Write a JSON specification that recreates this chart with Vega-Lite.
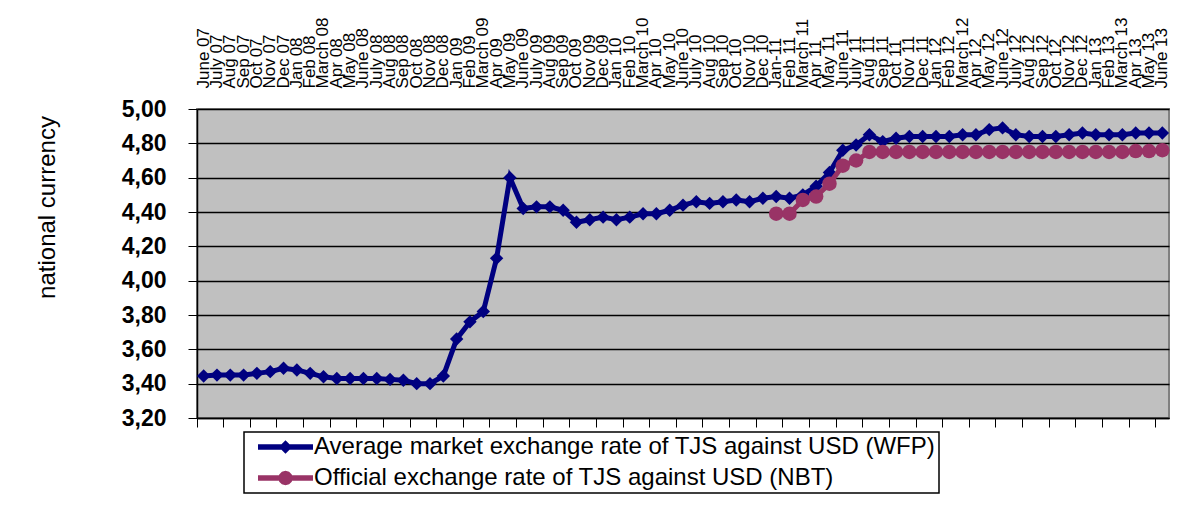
{
  "$schema": "https://vega.github.io/schema/vega-lite/v6.json",
  "width": 972,
  "height": 309,
  "autosize": {"type": "none"},
  "padding": {"left": 197, "top": 109, "right": 12, "bottom": 88},
  "background": "white",
  "config": {
    "font": "Liberation Sans",
    "view": {"fill": "#C0C0C0", "stroke": "#808080", "strokeWidth": 2}
  },
  "datasets": {
    "wfp": [
      {"month": "June 07", "rate": 3.445}, {"month": "July 07", "rate": 3.45}, {"month": "Aug 07", "rate": 3.45},
      {"month": "Sep 07", "rate": 3.45}, {"month": "Oct 07", "rate": 3.46}, {"month": "Nov 07", "rate": 3.47},
      {"month": "Dec 07", "rate": 3.49}, {"month": "Jan 08", "rate": 3.48}, {"month": "Feb 08", "rate": 3.46},
      {"month": "March 08", "rate": 3.44}, {"month": "Apr 08", "rate": 3.43}, {"month": "May 08", "rate": 3.43},
      {"month": "June 08", "rate": 3.43}, {"month": "July 08", "rate": 3.43}, {"month": "Aug 08", "rate": 3.425},
      {"month": "Sep 08", "rate": 3.42}, {"month": "Oct 08", "rate": 3.40}, {"month": "Nov 08", "rate": 3.40},
      {"month": "Dec 08", "rate": 3.445}, {"month": "Jan 09", "rate": 3.66}, {"month": "Feb 09", "rate": 3.76},
      {"month": "March 09", "rate": 3.82}, {"month": "Apr 09", "rate": 4.13}, {"month": "May 09", "rate": 4.60},
      {"month": "June 09", "rate": 4.42}, {"month": "July 09", "rate": 4.43}, {"month": "Aug 09", "rate": 4.43},
      {"month": "Sep 09", "rate": 4.41}, {"month": "Oct 09", "rate": 4.34}, {"month": "Nov 09", "rate": 4.355},
      {"month": "Dec 09", "rate": 4.37}, {"month": "Jan 10", "rate": 4.355}, {"month": "Feb 10", "rate": 4.37},
      {"month": "March 10", "rate": 4.39}, {"month": "Apr 10", "rate": 4.39}, {"month": "May 10", "rate": 4.41},
      {"month": "June 10", "rate": 4.44}, {"month": "July 10", "rate": 4.46}, {"month": "Aug 10", "rate": 4.45},
      {"month": "Sep 10", "rate": 4.46}, {"month": "Oct 10", "rate": 4.47}, {"month": "Nov 10", "rate": 4.46},
      {"month": "Dec 10", "rate": 4.48}, {"month": "Jan-11", "rate": 4.49}, {"month": "Feb 11", "rate": 4.48},
      {"month": "March 11", "rate": 4.50}, {"month": "Apr 11", "rate": 4.55}, {"month": "May 11", "rate": 4.63},
      {"month": "June 11", "rate": 4.76}, {"month": "July 11", "rate": 4.79}, {"month": "Aug 11", "rate": 4.85},
      {"month": "Sep 11", "rate": 4.81}, {"month": "Oct 11", "rate": 4.83}, {"month": "Nov 11", "rate": 4.84},
      {"month": "Dec 11", "rate": 4.84}, {"month": "Jan 12", "rate": 4.84}, {"month": "Feb 12", "rate": 4.84},
      {"month": "March 12", "rate": 4.85}, {"month": "Apr 12", "rate": 4.85}, {"month": "May 12", "rate": 4.88},
      {"month": "June 12", "rate": 4.89}, {"month": "July 12", "rate": 4.85}, {"month": "Aug 12", "rate": 4.84},
      {"month": "Sep 12", "rate": 4.84}, {"month": "Oct 12", "rate": 4.84}, {"month": "Nov 12", "rate": 4.85},
      {"month": "Dec 12", "rate": 4.86}, {"month": "Jan 13", "rate": 4.85}, {"month": "Feb 13", "rate": 4.85},
      {"month": "March 13", "rate": 4.85}, {"month": "Apr 13", "rate": 4.86}, {"month": "May 13", "rate": 4.86},
      {"month": "June 13", "rate": 4.86}
    ],
    "nbt": [
      {"month": "Jan-11", "rate": 4.39}, {"month": "Feb 11", "rate": 4.39}, {"month": "March 11", "rate": 4.47},
      {"month": "Apr 11", "rate": 4.49}, {"month": "May 11", "rate": 4.565}, {"month": "June 11", "rate": 4.67},
      {"month": "July 11", "rate": 4.70}, {"month": "Aug 11", "rate": 4.75}, {"month": "Sep 11", "rate": 4.75},
      {"month": "Oct 11", "rate": 4.75}, {"month": "Nov 11", "rate": 4.75}, {"month": "Dec 11", "rate": 4.75},
      {"month": "Jan 12", "rate": 4.75}, {"month": "Feb 12", "rate": 4.75}, {"month": "March 12", "rate": 4.75},
      {"month": "Apr 12", "rate": 4.75}, {"month": "May 12", "rate": 4.75}, {"month": "June 12", "rate": 4.75},
      {"month": "July 12", "rate": 4.75}, {"month": "Aug 12", "rate": 4.75}, {"month": "Sep 12", "rate": 4.75},
      {"month": "Oct 12", "rate": 4.75}, {"month": "Nov 12", "rate": 4.75}, {"month": "Dec 12", "rate": 4.75},
      {"month": "Jan 13", "rate": 4.75}, {"month": "Feb 13", "rate": 4.75}, {"month": "March 13", "rate": 4.75},
      {"month": "Apr 13", "rate": 4.755}, {"month": "May 13", "rate": 4.755}, {"month": "June 13", "rate": 4.76}
    ]
  },
  "resolve": {"axis": {"x": "independent"}},
  "encoding": {
    "y": {
      "field": "rate",
      "type": "quantitative",
      "scale": {"domain": [3.2, 5.0], "nice": false, "zero": false},
      "axis": {
        "title": "national currency",
        "titleFont": "Liberation Sans",
        "titleFontSize": 24,
        "titleFontWeight": "normal",
        "titleColor": "black",
        "titleAngle": -90,
        "titleAlign": "center",
        "titleBaseline": "middle",
        "titleX": -150,
        "titleY": 98,
        "values": [3.2, 3.4, 3.6, 3.8, 4.0, 4.2, 4.4, 4.6, 4.8, 5.0],
        "labelExpr": "replace(format(datum.value, '.2f'), '.', ',')",
        "labelFont": "Liberation Sans",
        "labelFontSize": 23,
        "labelFontWeight": "bold",
        "labelColor": "black",
        "labelPadding": 22,
        "labelOverlap": false,
        "labelFlush": false,
        "tickSize": 9,
        "tickColor": "black",
        "tickWidth": 1,
        "domainColor": "black",
        "domainWidth": 1.5,
        "grid": true,
        "gridColor": "black",
        "gridWidth": 1.5,
        "gridOpacity": 1
      }
    }
  },
  "layer": [
    {
      "data": {"name": "wfp"},
      "mark": {"type": "line", "strokeWidth": 5},
      "encoding": {
        "x": {
          "field": "month",
          "type": "ordinal",
          "sort": null,
          "scale": {
            "type": "band",
            "paddingInner": 0,
            "paddingOuter": 0,
            "domain": ["June 07","July 07","Aug 07","Sep 07","Oct 07","Nov 07","Dec 07",
              "Jan 08","Feb 08","March 08","Apr 08","May 08","June 08","July 08","Aug 08","Sep 08","Oct 08","Nov 08","Dec 08",
              "Jan 09","Feb 09","March 09","Apr 09","May 09","June 09","July 09","Aug 09","Sep 09","Oct 09","Nov 09","Dec 09",
              "Jan 10","Feb 10","March 10","Apr 10","May 10","June 10","July 10","Aug 10","Sep 10","Oct 10","Nov 10","Dec 10",
              "Jan-11","Feb 11","March 11","Apr 11","May 11","June 11","July 11","Aug 11","Sep 11","Oct 11","Nov 11","Dec 11",
              "Jan 12","Feb 12","March 12","Apr 12","May 12","June 12","July 12","Aug 12","Sep 12","Oct 12","Nov 12","Dec 12",
              "Jan 13","Feb 13","March 13","Apr 13","May 13","June 13"]
          },
          "axis": {
            "orient": "bottom",
            "title": null,
            "labels": false,
            "grid": false,
            "bandPosition": 0,
            "values": ["June 07","Aug 07","Oct 07","Dec 07","Feb 08","Apr 08","June 08","Aug 08","Oct 08","Dec 08",
              "Feb 09","Apr 09","June 09","Aug 09","Oct 09","Dec 09","Feb 10","Apr 10","June 10","Aug 10","Oct 10","Dec 10",
              "Feb 11","Apr 11","June 11","Aug 11","Oct 11","Dec 11","Feb 12","Apr 12","June 12","Aug 12","Oct 12","Dec 12",
              "Feb 13","Apr 13","June 13"],
            "tickSize": 9,
            "tickColor": "black",
            "tickWidth": 1,
            "domainColor": "black",
            "domainWidth": 1.5
          }
        },
        "color": {
          "datum": "Average market exchange rate of TJS against USD (WFP)",
          "scale": {
            "domain": ["Average market exchange rate of TJS against USD (WFP)", "Official exchange rate of TJS against USD (NBT)"],
            "range": ["#000080", "#993366"]
          },
          "legend": {
            "orient": "none",
            "legendX": 47,
            "legendY": 323,
            "direction": "vertical",
            "title": null,
            "labelFont": "Liberation Sans",
            "labelFontSize": 24,
            "labelColor": "black",
            "labelLimit": 0,
            "symbolSize": 100,
            "symbolStrokeWidth": 0,
            "rowPadding": 7,
            "padding": 3,
            "strokeColor": "black",
            "fillColor": "white",
            "encode": {
              "symbols": {
                "update": {
                  "shape": {"signal": "indexof(datum.value, 'WFP') >= 0 ? 'M-5.5,-0.55L5.5,-0.55L5.5,0.55L-5.5,0.55Z M0,-1.35L1.35,0L0,1.35L-1.35,0Z' : 'M-5.5,-0.55L5.5,-0.55L5.5,0.55L-5.5,0.55Z M1.45,0L1.256,0.725L0.725,1.256L0,1.45L-0.725,1.256L-1.256,0.725L-1.45,0L-1.256,-0.725L-0.725,-1.256L0,-1.45L0.725,-1.256L1.256,-0.725Z'"},
                  "fill": {"signal": "indexof(datum.value, 'WFP') >= 0 ? '#000080' : '#993366'"},
                  "stroke": {"value": "transparent"},
                  "opacity": {"value": 1},
                  "x": {"value": 38.5}
                }
              },
              "labels": {"update": {"x": {"value": 67}}},
              "entries": {"enter": {"width": {"value": 927}}, "update": {"width": {"value": 927}}},
              "legend": {"update": {"strokeWidth": {"value": 1.5}}}
            }
          }
        }
      }
    },
    {
      "data": {"name": "wfp"},
      "mark": {"type": "point", "shape": "diamond", "filled": true, "opacity": 1, "size": 180},
      "encoding": {
        "x": {"field": "month", "type": "ordinal", "sort": null, "axis": null},
        "color": {"datum": "Average market exchange rate of TJS against USD (WFP)"}
      }
    },
    {
      "data": {"name": "nbt"},
      "mark": {"type": "line", "strokeWidth": 5},
      "encoding": {
        "x": {
          "field": "month",
          "type": "ordinal",
          "sort": null,
          "axis": {
            "orient": "top",
            "title": null,
            "ticks": false,
            "tickSize": 0,
            "domain": false,
            "grid": false,
            "bandPosition": 0.5,
            "labelAngle": -90,
            "labelAlign": "left",
            "labelBaseline": "middle",
            "labelPadding": 21,
            "labelFont": "Liberation Sans",
            "labelFontSize": 17,
            "labelColor": "black",
            "labelOverlap": false,
            "labelLimit": 0
          }
        },
        "color": {"datum": "Official exchange rate of TJS against USD (NBT)"}
      }
    },
    {
      "data": {"name": "nbt"},
      "mark": {"type": "point", "shape": "circle", "filled": true, "opacity": 1, "size": 210},
      "encoding": {
        "x": {"field": "month", "type": "ordinal", "sort": null, "axis": null},
        "color": {"datum": "Official exchange rate of TJS against USD (NBT)"}
      }
    }
  ]
}
